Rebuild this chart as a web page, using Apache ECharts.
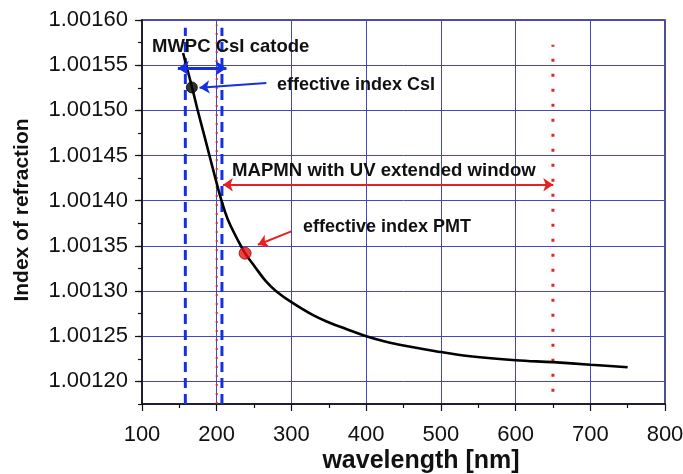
<!DOCTYPE html>
<html>
<head>
<meta charset="utf-8">
<script src="https://cdn.jsdelivr.net/npm/echarts@6/dist/echarts.min.js"></script>
<style>html,body{margin:0;padding:0;background:#fff}#c{width:683px;height:474px}</style>
</head>
<body>
<div id="c"></div>
<script>
// ---- data ----
const wavelength = [155, 167, 174, 182, 190, 198, 206, 215, 228, 238, 251, 266, 280, 300, 329, 351, 374, 400, 432, 500, 539, 600, 650, 700, 750];
const refIndex = [1.0015635, 1.0015254, 1.0015018, 1.0014764, 1.0014509, 1.0014255, 1.0014011, 1.0013790, 1.0013568, 1.0013419, 1.0013270, 1.0013107, 1.0012996, 1.0012877, 1.0012733, 1.0012650, 1.0012578, 1.0012500, 1.0012428, 1.0012325, 1.0012279, 1.0012235, 1.0012213, 1.0012185, 1.0012157];
const csiPoint = [166.7, 1.0015254];
const pmtPoint = [238, 1.0013419];
const mwpcLimits = [158, 207];          // blue dashed lines (nm)
const mwpcLineRange = [1.001175, 1.0015915];
const pmtLimits = [200, 650];           // red dotted lines (nm)
const pmtLineRanges = [[1.001175, 1.0015948], [1.0011886, 1.0015727]];
const mwpcArrow = [[148, 1.0015467], [213, 1.0015467]];
const pmtRangeArrow = [[208.3, 1.0014177], [650.4, 1.0014177]];
const csiArrow = [[266.4, 1.0015303], [177, 1.0015251]];
const pmtArrow = [[299.9, 1.0013660], [255.1, 1.0013513]];
const xTicks = {min: 100, max: 800, interval: 100};
const yRange = {min: 1.001175, max: 1.0016};
const labels = {
  mwpc: 'MWPC CsI catode',
  csi: 'effective index CsI',
  mapmn: 'MAPMN with UV extended window',
  pmt: 'effective index PMT',
  x: 'wavelength [nm]',
  y: 'Index of refraction'
};

const FONT = '"Liberation Sans", Arial, Helvetica, sans-serif';
const chart = echarts.init(document.getElementById('c'), null, {renderer: 'canvas'});

const curve = wavelength.map((w, i) => [w, refIndex[i]]);

function vline(x, range, color, width, type, z) {
  return {
    type: 'line', data: [[x, range[0]], [x, range[1]]], showSymbol: false, symbol: 'none',
    lineStyle: {color: color, width: width, type: type, cap: 'butt'}, z: z, silent: true, animation: false
  };
}
function arrow(coords, color, width, both, size) {
  return {
    type: 'lines', coordinateSystem: 'cartesian2d', polyline: false,
    symbol: both ? ['arrow', 'arrow'] : ['none', 'arrow'], symbolSize: size,
    lineStyle: {color: color, width: width, opacity: 1, curveness: 0},
    data: [{coords: coords}], z: 6, silent: true, animation: false
  };
}
function txt(text, x, y, size, opts) {
  const align = (opts && opts.center) ? 'center' : 'left';
  return {
    type: 'text', x: x, y: y, z: 100, rotation: (opts && opts.rotation) || 0,
    style: {text: text, font: 'bold ' + size + 'px ' + FONT, fill: '#111',
      align: align, verticalAlign: 'middle', textAlign: align, textVerticalAlign: 'middle'}
  };
}

const option = {
  animation: false,
  backgroundColor: '#fff',
  grid: {left: 142, right: 18, top: 20, bottom: 70, show: true, borderColor: '#222', borderWidth: 1.5, containLabel: false, outerBoundsMode: 'none'},
  xAxis: {
    type: 'value', min: xTicks.min, max: xTicks.max, interval: xTicks.interval,
    axisLine: {show: true, onZero: false, lineStyle: {color: '#111', width: 1.5}},
    axisTick: {show: true, inside: false, length: 7, lineStyle: {color: '#111', width: 1.2}},
    minorTick: {show: true, splitNumber: 2, length: 4, lineStyle: {color: '#111', width: 1.2}},
    axisLabel: {fontFamily: FONT, fontSize: 22, color: '#111', margin: 20},
    splitLine: {show: true, lineStyle: {color: '#4646c4', width: 1}}
  },
  yAxis: [{
    type: 'value', min: yRange.min, max: yRange.max, splitNumber: 8,
    axisLine: {show: true, onZero: false, lineStyle: {color: '#111', width: 1.5}},
    axisTick: {show: true, inside: false, length: 7, lineStyle: {color: '#111', width: 1.2}},
    axisLabel: {fontFamily: FONT, fontSize: 22, color: '#111', margin: 14, showMinLabel: false, showMaxLabel: true,
      formatter: v => v.toFixed(5)},
    splitLine: {show: true, lineStyle: {color: '#4646c4', width: 1}}
  }, {
    type: 'value', min: yRange.min, max: yRange.max, interval: 0.000025, position: 'left',
    axisLine: {show: false}, axisLabel: {show: false}, splitLine: {show: false},
    axisTick: {show: true, inside: false, length: 4, lineStyle: {color: '#111', width: 1.2}}
  }],
  series: [
    vline(mwpcLimits[0], mwpcLineRange, '#1530e0', 3, [10, 6], 3),
    vline(mwpcLimits[1], mwpcLineRange, '#1530e0', 3, [10, 6], 3),
    vline(pmtLimits[0], pmtLineRanges[0], '#e02828', 2, [2, 7], 3),
    vline(pmtLimits[1], pmtLineRanges[1], '#e02828', 3, [3, 12], 3),
    {
      type: 'line', data: curve, smooth: 0.4, showSymbol: false, symbol: 'none',
      lineStyle: {color: '#000', width: 2.6}, z: 5, silent: true, animation: false
    },
    arrow(mwpcArrow, '#1530e0', 3, true, 11),
    arrow(pmtRangeArrow, '#e82020', 2, true, 10),
    arrow(csiArrow, '#1530e0', 2, false, 10),
    arrow(pmtArrow, '#e82020', 2, false, 10),
    {
      type: 'scatter', data: [csiPoint], symbolSize: 11, z: 8,
      itemStyle: {color: '#000', borderColor: '#000', borderWidth: 1}, silent: true, animation: false
    },
    {
      type: 'scatter', data: [pmtPoint], symbolSize: 12, z: 8,
      itemStyle: {color: '#ee1010', borderColor: '#8a1010', borderWidth: 1}, silent: true, animation: false
    }
  ],
  graphic: [
    txt(labels.mwpc, 152, 47, 18.5),
    txt(labels.csi, 277, 85, 18),
    txt(labels.mapmn, 232, 171, 18.6),
    txt(labels.pmt, 303, 227, 18),
    txt(labels.x, 421, 461, 25, {center: true}),
    txt(labels.y, 22, 210, 21, {center: true, rotation: Math.PI / 2})
  ]
};
chart.setOption(option);
</script>
</body>
</html>
